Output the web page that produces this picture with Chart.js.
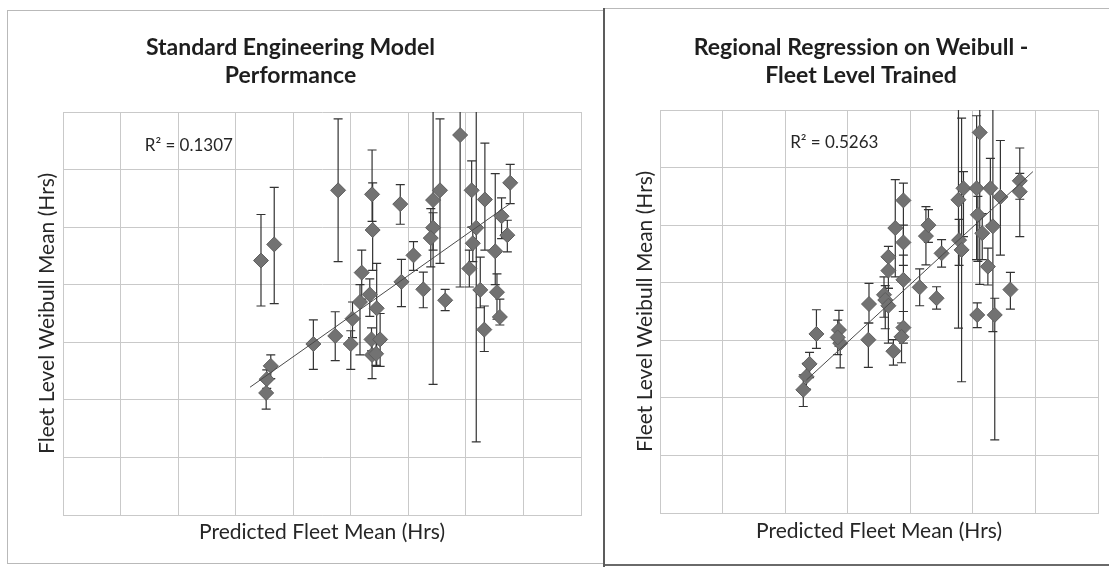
<!DOCTYPE html>
<html>
<head>
<meta charset="utf-8">
<script src="https://cdn.jsdelivr.net/npm/chart.js@4.4.1/dist/chart.umd.min.js"></script>
<style>
  html, body { margin: 0; padding: 0; background: #fff; }
  body { position: relative; width: 1109px; height: 567px; overflow: hidden; }
  .frame { position: absolute; box-sizing: border-box; }
  canvas { position: absolute; top: 0; }
</style>
</head>
<body>
<div class="frame" style="left:7px; top:10px; width:597px; height:554px; border:1px solid #b9b9b9; border-right:none;"></div>
<div class="frame" style="left:603px; top:8px; width:506px; height:1px; background:#b9b9b9;"></div>
<div class="frame" style="left:603px; top:564px; width:506px; height:2px; background:#6a6a6a;"></div>
<div class="frame" style="left:603px; top:8px; width:2px; height:559px; background:#5c5c5c;"></div>
<canvas id="leftChart" width="603" height="567" style="left:0;"></canvas>
<canvas id="rightChart" width="504" height="567" style="left:605px;"></canvas>
<script>
// ---- Standard Engineering Model Performance ----
const leftPredicted = [3.44, 3.67, 4.78, 3.61, 3.54, 3.53, 4.35, 4.73, 5.00, 5.03, 5.16, 5.19, 5.33, 5.45,
  5.36, 5.51, 5.37, 5.44, 5.37, 5.38, 5.86, 5.88, 6.09, 6.26, 6.64, 6.43, 6.55, 6.43, 6.39, 6.90,
  7.10, 7.18, 7.12, 7.06, 7.25, 7.32, 7.33, 7.51, 7.54, 7.59, 7.62, 7.72, 7.77];
const leftWeibullMean = [4.42, 4.70, 5.64, 2.59, 2.36, 2.12, 2.97, 3.11, 2.97, 3.41, 3.70, 4.21, 3.83, 3.59,
  3.05, 3.05, 2.78, 2.80, 5.57, 4.95, 5.40, 4.05, 4.51, 3.92, 3.73, 5.47, 5.64, 4.99, 4.81, 6.60,
  5.64, 4.99, 4.72, 4.28, 3.91, 3.22, 5.48, 4.58, 3.87, 3.44, 5.19, 4.86, 5.77];
const leftLow = [3.63, 3.67, 4.40, 2.37, 2.20, 1.84, 2.53, 2.68, 2.53, 3.08, 2.78, 3.75, 3.45, 2.58,
  2.85, 2.58, 2.37, 2.60, 5.10, 4.25, 5.05, 3.62, 4.25, 3.60, 3.55, 2.27, 4.37, 4.60, 4.31, 3.96,
  5.00, 1.27, 4.40, 3.96, 3.60, 2.84, 4.60, 4.00, 3.40, 3.30, 4.80, 4.57, 5.41];
const leftHigh = [5.22, 5.69, 6.88, 2.78, 2.52, 2.34, 3.39, 3.53, 3.20, 3.70, 4.00, 4.60, 4.10, 4.37,
  3.25, 3.50, 3.00, 3.00, 6.34, 5.77, 5.74, 4.44, 4.75, 4.22, 3.92, 7.60, 6.88, 5.25, 5.32, 7.60,
  6.15, 7.60, 5.00, 4.60, 4.48, 3.63, 6.46, 5.93, 4.19, 3.75, 5.51, 5.12, 6.09];
const leftTrendX = [3.25, 7.77];
const leftTrendY = [2.22, 5.41];
const leftFit = 'R\u00b2 = 0.1307';

// ---- Regional Regression on Weibull - Fleet Level Trained ----
const rightPredicted = [2.29, 2.34, 2.39, 2.50, 2.86, 2.88, 2.84, 3.33, 3.34, 3.58, 3.60, 3.65, 3.65, 3.65,
  3.73, 3.76, 3.89, 3.89, 3.89, 3.89, 3.86, 4.15, 4.42, 4.25, 4.29, 4.50, 4.77, 4.85, 4.78, 4.82,
  5.11, 5.06, 5.08, 5.15, 5.24, 5.07, 5.35, 5.28, 5.32, 5.44, 5.60, 5.75, 5.75];
const rightWeibullMean = [2.14, 2.37, 2.59, 3.11, 3.18, 2.95, 3.05, 3.01, 3.63, 3.79, 3.70, 3.60, 4.45, 4.21,
  2.81, 4.95, 5.43, 4.70, 4.05, 3.22, 3.06, 3.92, 3.73, 4.81, 5.00, 4.51, 5.44, 5.64, 4.74, 4.57,
  6.61, 5.64, 5.18, 4.86, 4.28, 3.44, 3.44, 5.64, 4.98, 5.49, 3.88, 5.77, 5.58];
const rightLow = [1.85, 2.15, 2.35, 2.86, 2.90, 2.52, 2.75, 2.53, 3.30, 3.40, 3.20, 2.95, 4.20, 3.90,
  2.57, 4.10, 4.70, 4.30, 3.50, 2.95, 2.61, 3.60, 3.54, 4.31, 4.70, 4.27, 3.21, 4.80, 4.30, 2.28,
  3.97, 4.40, 4.37, 4.40, 3.96, 3.22, 1.27, 5.00, 3.15, 4.48, 3.54, 5.45, 4.80];
const rightHigh = [2.40, 2.60, 2.79, 3.53, 3.52, 3.20, 3.35, 3.30, 3.99, 4.10, 3.95, 3.90, 4.63, 4.45,
  3.01, 5.79, 5.73, 5.00, 4.48, 3.50, 3.30, 4.24, 3.93, 5.32, 5.27, 4.75, 7.60, 5.93, 5.10, 6.86,
  7.60, 6.90, 5.50, 5.20, 4.60, 3.65, 3.73, 6.16, 7.60, 6.47, 4.18, 6.34, 5.90];
const rightTrendX = [2.34, 5.96];
const rightTrendY = [2.31, 5.93];
const rightFit = 'R\u00b2 = 0.5263';

const xAxisTitle = 'Predicted Fleet Mean (Hrs)';
const yAxisTitle = 'Fleet Level Weibull Mean (Hrs)';

const FONT = 'Lato, "Open Sans", sans-serif';
const INK = '#262626';
const GRID = '#c9c9c9';

// Vertical confidence bars with caps, drawn under the markers and clipped to the plot area.
const errorBarPlugin = {
  id: 'errorBars',
  beforeDatasetsDraw(chart) {
    const { ctx, chartArea, scales: { x, y } } = chart;
    const points = chart.data.datasets[0].data;
    ctx.save();
    ctx.beginPath();
    ctx.rect(chartArea.left, chartArea.top, chartArea.width, chartArea.height);
    ctx.clip();
    ctx.strokeStyle = '#333333';
    ctx.lineWidth = 1.2;
    const cap = 4.5;
    points.forEach(p => {
      const px = x.getPixelForValue(p.x);
      const yl = y.getPixelForValue(p.low);
      const yh = y.getPixelForValue(p.high);
      ctx.beginPath();
      ctx.moveTo(px, yl); ctx.lineTo(px, yh);
      ctx.moveTo(px - cap, yl); ctx.lineTo(px + cap, yl);
      ctx.moveTo(px - cap, yh); ctx.lineTo(px + cap, yh);
      ctx.stroke();
    });
    ctx.restore();
  },
  afterDatasetsDraw(chart, args, opts) {
    if (!opts.label) return;
    const { ctx, scales: { x, y } } = chart;
    ctx.save();
    ctx.font = '17px ' + FONT;
    ctx.fillStyle = INK;
    ctx.textAlign = 'left';
    ctx.textBaseline = 'middle';
    ctx.fillText(opts.label, x.getPixelForValue(opts.at[0]), y.getPixelForValue(opts.at[1]));
    ctx.restore();
  }
};

function makeChart(id, cfg) {
  const points = cfg.xs.map((v, i) => ({ x: v, y: cfg.ys[i], low: cfg.lows[i], high: cfg.highs[i] }));
  const trend = cfg.trendX.map((v, i) => ({ x: v, y: cfg.trendY[i] }));
  return new Chart(document.getElementById(id), {
    type: 'scatter',
    data: {
      datasets: [
        {
          data: points,
          pointStyle: 'rectRot',
          pointRadius: 7.5,
          backgroundColor: '#727272',
          borderColor: '#5d5d5d',
          borderWidth: 1,
          order: 1
        },
        {
          type: 'line',
          data: trend,
          showLine: true,
          pointRadius: 0,
          borderColor: '#4a4a4a',
          borderWidth: 1,
          fill: false,
          order: 0
        }
      ]
    },
    options: {
      responsive: false,
      animation: false,
      layout: { padding: cfg.padding },
      plugins: {
        legend: { display: false },
        tooltip: { enabled: false },
        title: {
          display: true,
          text: cfg.title,
          color: '#1e1e1e',
          font: { family: FONT, size: 23, weight: 'bold', lineHeight: 1.2 },
          padding: { top: 0, bottom: cfg.titleGap }
        },
        errorBars: { label: cfg.fitLabel, at: cfg.fitAt }
      },
      scales: {
        x: {
          type: 'linear', min: 0, max: cfg.xMax,
          ticks: { display: false, stepSize: 1 },
          grid: { color: GRID, drawTicks: false },
          border: { color: GRID },
          title: {
            display: true, text: xAxisTitle, color: INK,
            font: { family: FONT, size: 21, lineHeight: 1.2 },
            padding: cfg.xTitlePad
          }
        },
        y: {
          type: 'linear', min: 0, max: 7,
          ticks: { display: false, stepSize: 1 },
          grid: { color: GRID, drawTicks: false },
          border: { color: GRID },
          title: {
            display: true, text: yAxisTitle, color: INK,
            font: { family: FONT, size: 21, lineHeight: 1.2 },
            padding: cfg.yTitlePad
          }
        }
      }
    },
    plugins: [errorBarPlugin]
  });
}

makeChart('leftChart', {
  title: ['Standard Engineering Model', 'Performance'],
  xs: leftPredicted, ys: leftWeibullMean, lows: leftLow, highs: leftHigh,
  trendX: leftTrendX, trendY: leftTrendY,
  fitLabel: leftFit, fitAt: [1.42, 6.42],
  xMax: 9,
  padding: { left: 0, right: 22, top: 34.2, bottom: 13.9 },
  titleGap: 22.6,
  xTitlePad: { top: 4.9, bottom: 8 },
  yTitlePad: { top: 34.4, bottom: 3.4 }
});

makeChart('rightChart', {
  title: ['Regional Regression on Weibull -', 'Fleet Level Trained'],
  xs: rightPredicted, ys: rightWeibullMean, lows: rightLow, highs: rightHigh,
  trendX: rightTrendX, trendY: rightTrendY,
  fitLabel: rightFit, fitAt: [2.08, 6.43],
  xMax: 7,
  padding: { left: 19, right: 11, top: 34.2, bottom: 15.4 },
  titleGap: 20.6,
  xTitlePad: { top: 5.4, bottom: 8 },
  yTitlePad: { top: 8.4, bottom: 2.4 }
});
</script>
</body>
</html>
